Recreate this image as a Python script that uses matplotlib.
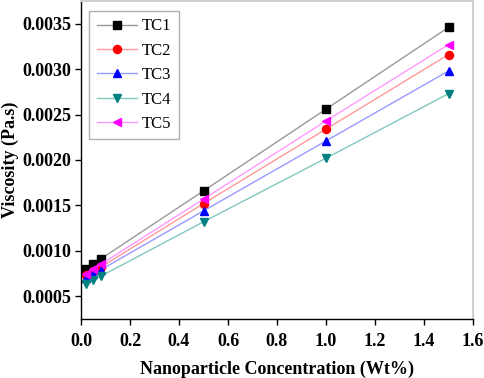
import matplotlib
matplotlib.use("Agg")
import matplotlib.pyplot as plt
from matplotlib.ticker import MultipleLocator, FormatStrFormatter

conc = [0.02, 0.05, 0.08, 0.5, 1.0, 1.5]
tc1 = [0.00080, 0.00085, 0.00091, 0.00166, 0.00256, 0.00346]
tc2 = [0.00073, 0.00078, 0.00082, 0.00152, 0.00234, 0.00316]
tc3 = [0.00070, 0.00074, 0.00079, 0.00144, 0.00221, 0.00298]
tc4 = [0.00064, 0.00068, 0.00072, 0.00132, 0.00202, 0.00273]
tc5 = [0.00075, 0.00080, 0.00085, 0.00157, 0.00243, 0.00327]
labels = ["TC1", "TC2", "TC3", "TC4", "TC5"]
series = [tc1, tc2, tc3, tc4, tc5]

markers = ["s", "o", "^", "v", "<"]
mcolors = ["#000000", "#ff0000", "#0000ff", "#008080", "#ff00ff"]
lcolors = ["#999999", "#ff9999", "#9999ff", "#80c8c0", "#ff99ff"]

plt.rcParams['font.family'] = ['Liberation Serif', 'DejaVu Serif']

fig = plt.figure(figsize=(4.84, 3.78), dpi=100)
ax = fig.add_axes([81/484, 59/378, 392/484, 318/378])

for lab, ys, m, mc, lc in zip(labels, series, markers, mcolors, lcolors):
    ax.plot(conc, ys, color=lc, lw=1.0, marker=m, markersize=5.8,
            markerfacecolor=mc, markeredgecolor=mc, label=lab)

ax.set_xlim(0, 1.6)
ax.set_ylim(0.00025, 0.00375)
ax.xaxis.set_major_locator(MultipleLocator(0.2))
ax.yaxis.set_major_locator(MultipleLocator(0.0005))
ax.xaxis.set_major_formatter(FormatStrFormatter('%.1f'))
ax.yaxis.set_major_formatter(FormatStrFormatter('%.4f'))
ax.tick_params(direction='out', length=4, width=1, labelsize=13, pad=3)
ax.tick_params(axis='x', pad=6)
for t in ax.get_xticklabels() + ax.get_yticklabels():
    t.set_fontweight('bold')
ax.tick_params(top=False, right=False)

for s in ['left', 'bottom']:
    ax.spines[s].set_color('black')
    ax.spines[s].set_linewidth(1.0)
for s in ['top', 'right']:
    ax.spines[s].set_color('#d0d0d0')
    ax.spines[s].set_linewidth(1.5)

ax.set_xlabel('Nanoparticle Concentration (Wt%)', fontsize=13, fontweight='bold', labelpad=8)
ax.set_ylabel('Viscosity (Pa.s)', fontsize=13, fontweight='bold')
ax.yaxis.set_label_coords((19 - 81) / 392, 0.5)

leg = ax.legend(loc='upper left', bbox_to_anchor=(8/392, 308/318), borderaxespad=0,
                fontsize=12, frameon=True, fancybox=False, edgecolor='#b0b0b0', framealpha=1,
                handlelength=2.4, labelspacing=0.5, borderpad=0.45, handletextpad=0.3)
leg.get_frame().set_linewidth(1.0)

fig.savefig('out.png', dpi=100)
